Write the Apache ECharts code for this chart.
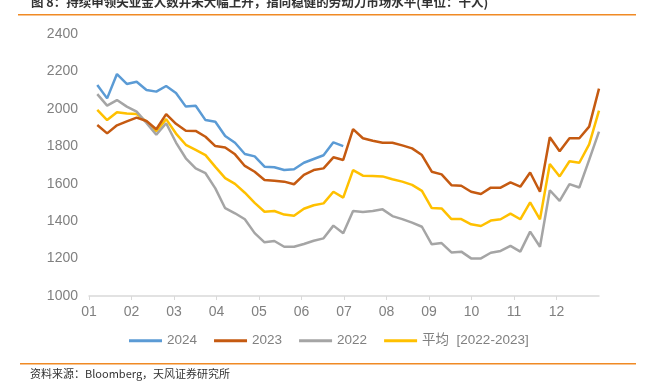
<!DOCTYPE html>
<html>
<head>
<meta charset="utf-8">
<script src="https://cdn.jsdelivr.net/npm/echarts@6/dist/echarts.min.js"></script>
<style>html,body{margin:0;padding:0;background:#fff}#c{width:651px;height:388px}</style>
</head>
<body>
<div id="c"></div>
<script>
// month tick labels
var monthLabels = ['01','02','03','04','05','06','07','08','09','10','11','12'];
// weekly values (thousands), week index 0..51
var s2024 = [2127,2056,2186,2133,2145,2101,2092,2122,2085,2012,2017,1940,1931,1855,1819,1759,1746,1691,1688,1673,1677,1712,1732,1752,1821,1801];
var s2023 = [1914,1869,1912,1933,1953,1935,1891,1972,1920,1883,1882,1851,1801,1794,1757,1695,1664,1620,1616,1611,1597,1647,1673,1682,1741,1727,1892,1843,1830,1819,1819,1805,1789,1753,1664,1650,1592,1589,1557,1545,1579,1579,1607,1584,1660,1557,1848,1773,1843,1843,1905,2108];
var s2022 = [2079,2017,2047,2012,1985,1925,1862,1923,1820,1736,1682,1656,1575,1469,1442,1410,1336,1287,1294,1263,1263,1278,1295,1308,1376,1335,1454,1449,1454,1463,1427,1411,1392,1370,1276,1283,1233,1237,1201,1201,1231,1241,1268,1237,1344,1263,1565,1508,1598,1580,1727,1878];
var sAvg = [1994,1940,1982,1975,1972,1931,1880,1945,1868,1808,1781,1753,1690,1630,1599,1552,1498,1450,1454,1435,1429,1466,1485,1495,1557,1526,1673,1643,1641,1639,1624,1611,1594,1562,1470,1468,1411,1411,1383,1374,1403,1410,1440,1410,1500,1410,1705,1639,1720,1712,1810,1991];
var seriesNames = ['2024','2023','2022','平均  [2022-2023]'];

// week position on the month axis (first week a bit after the 01 tick)
var firstWeekPos = 1.195, weekStep = 11.805 / 51;
function toPairs(arr) {
  return arr.map(function (v, i) { return [firstWeekPos + i * weekStep, v]; });
}

var chart = echarts.init(document.getElementById('c'), null, {renderer: 'canvas'});
var fontNum = '"Liberation Sans", Arial, sans-serif';
var fontCjk = '"Noto Sans CJK SC", sans-serif';
var colors = ['#5B9BD5', '#C55A11', '#A5A5A5', '#FFC000'];

chart.setOption({
  animation: false,
  backgroundColor: '#fff',
  color: colors,
  title: {
    text: '图 8：持续申领失业金人数并未大幅上升，指向稳健的劳动力市场水平(单位：千人)',
    left: 31, top: -4, padding: 0,
    textStyle: {color: '#333', fontSize: 12.5, fontWeight: 'bold', fontFamily: fontCjk}
  },
  grid: {left: 89, right: 52, top: 34, bottom: 92, containLabel: false},
  xAxis: {
    type: 'value', min: 1, max: 13, interval: 1,
    axisLine: {show: true, lineStyle: {color: '#d9d9d9', width: 1.5}},
    axisTick: {show: true, length: 4, lineStyle: {color: '#d9d9d9'}, customValues: [1,2,3,4,5,6,7,8,9,10,11,12]},
    splitLine: {show: false},
    axisLabel: {
      color: '#808080', fontSize: 14, fontFamily: fontNum, margin: 9,
      customValues: [1,2,3,4,5,6,7,8,9,10,11,12],
      formatter: function (v) { return monthLabels[Math.round(v) - 1] || ''; }
    }
  },
  yAxis: {
    type: 'value', min: 1000, max: 2400, interval: 200,
    axisLine: {show: false}, axisTick: {show: false}, splitLine: {show: false},
    axisLabel: {color: '#808080', fontSize: 14, fontFamily: fontNum, margin: 11,
      formatter: function (v) { return String(v); }}
  },
  legend: {
    left: 129, top: 334, padding: 0, icon: 'rect', itemWidth: 33, itemHeight: 3, itemGap: 17,
    textStyle: {color: '#808080', fontSize: 13.5, fontFamily: '"Liberation Sans", "Noto Sans CJK SC", sans-serif'},
    data: seriesNames
  },
  series: [
    {name: seriesNames[3], type: 'line', data: toPairs(sAvg), symbol: 'none', lineStyle: {width: 2.5, color: colors[3]}, itemStyle: {color: colors[3]}, z: 2},
    {name: seriesNames[2], type: 'line', data: toPairs(s2022), symbol: 'none', lineStyle: {width: 2.5, color: colors[2]}, itemStyle: {color: colors[2]}, z: 3},
    {name: seriesNames[1], type: 'line', data: toPairs(s2023), symbol: 'none', lineStyle: {width: 2.5, color: colors[1]}, itemStyle: {color: colors[1]}, z: 4},
    {name: seriesNames[0], type: 'line', data: toPairs(s2024), symbol: 'none', lineStyle: {width: 2.5, color: colors[0]}, itemStyle: {color: colors[0]}, z: 5}
  ],
  graphic: [
    {type: 'rect', shape: {x: 18, y: 14, width: 618, height: 1.5}, style: {fill: '#F08A24'}},
    {type: 'rect', shape: {x: 20, y: 363, width: 616, height: 1.5}, style: {fill: '#F08A24'}},
    {type: 'text', x: 30, y: 368, style: {text: '资料来源：Bloomberg，天风证券研究所', fill: '#333', font: '11px ' + fontCjk}}
  ]
});
</script>
</body>
</html>
